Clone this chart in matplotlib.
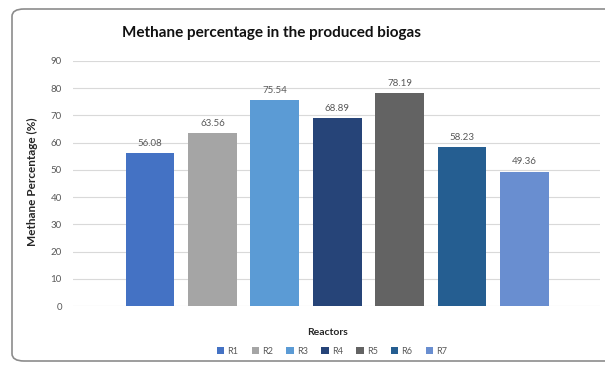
import matplotlib.pyplot as plt
from matplotlib.patches import FancyBboxPatch, Patch

# Data
reactors = ['R1', 'R2', 'R3', 'R4', 'R5', 'R6', 'R7']
methane = [56.08, 63.56, 75.54, 68.89, 78.19, 58.23, 49.36]
colors = ['#4472C4', '#A5A5A5', '#5B9BD5', '#264478', '#636363', '#255E91', '#698ED0']
yticks = [0, 10, 20, 30, 40, 50, 60, 70, 80, 90]

plt.rcParams['font.family'] = ['Lato', 'DejaVu Sans']

W, H = 605, 367
fig = plt.figure(figsize=(W / 100, H / 100), dpi=100)

# chart frame, behind the axes
frame = FancyBboxPatch((12 / W, 6 / H), 610 / W, 352 / H,
                       boxstyle='round,pad=0,rounding_size=0.02',
                       transform=fig.transFigure, facecolor='white',
                       edgecolor='#8c8c8c', lw=1.2, zorder=-5)
fig.patches.append(frame)

L, R, T, B = 73, 600, 61, 306
ax = fig.add_axes([L / W, (H - B) / H, (R - L) / W, (B - T) / H])
ax.set_facecolor('none')

x = range(len(reactors))
bars = ax.bar(x, methane, width=0.78, color=colors, zorder=3)
for b, v in zip(bars, methane):
    ax.text(b.get_x() + b.get_width() / 2, v + 2, f'{v:.2f}',
            ha='center', va='bottom', fontsize=7, color='#595959')

ax.set_ylim(0, 90)
ax.set_yticks(yticks)
ax.set_xlim((L - 150) / 62.4, (R - 150) / 62.4)
ax.set_xticks([])
ax.grid(axis='y', color='#d9d9d9', lw=0.8, zorder=0)
for s in ax.spines.values():
    s.set_visible(False)
ax.tick_params(axis='y', length=0, labelsize=7, labelcolor='#595959', pad=8)

ax.set_ylabel('Methane Percentage (%)', fontsize=8.5, fontweight='bold',
              color='#262626')
ax.yaxis.set_label_coords((38 - L) / (R - L), (B - 182) / (B - T))
ax.set_xlabel('Reactors', fontsize=7.5, fontweight='bold', color='#262626')
ax.xaxis.set_label_coords((327 - L) / (R - L), -22 / (B - T))
fig.text(271 / W, (H - 33) / H, 'Methane percentage in the produced biogas',
         ha='center', va='center', fontsize=11, fontweight='bold', color='#111111')

handles = [Patch(facecolor=c) for c in colors]
fig.legend(handles, reactors, loc='center', bbox_to_anchor=(332 / W, (H - 351) / H),
           ncol=7, frameon=False, fontsize=6.5, handlelength=0.8, handleheight=0.8,
           handletextpad=0.35, columnspacing=1.5, labelcolor='#595959')

fig.savefig('out.png', dpi=100)
